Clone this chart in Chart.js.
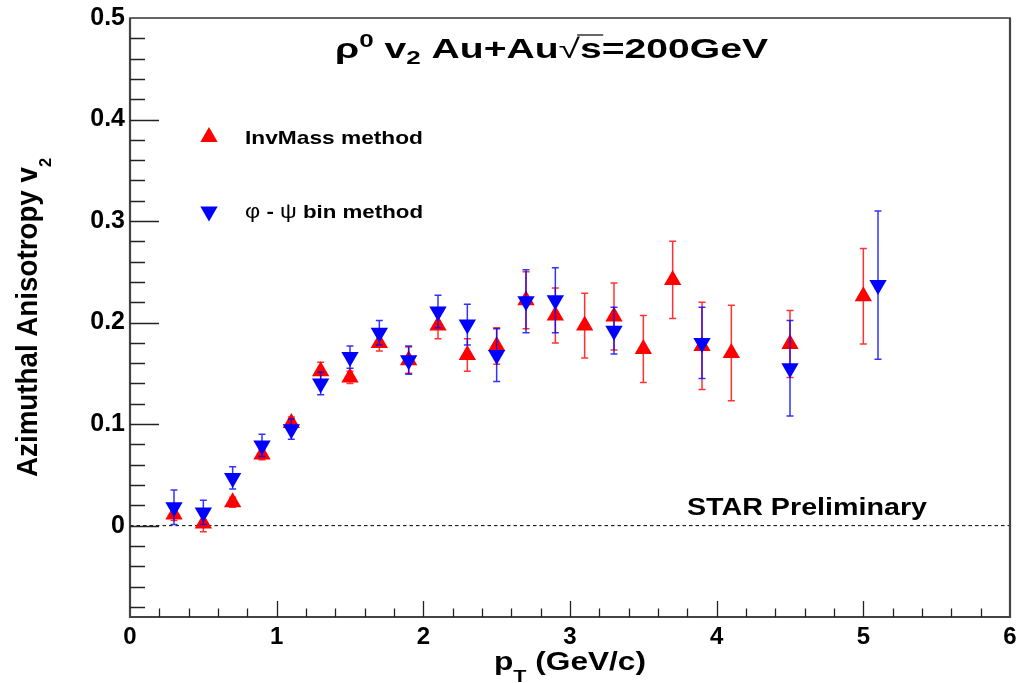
<!DOCTYPE html>
<html><head><meta charset="utf-8">
<script src="https://cdn.jsdelivr.net/npm/chart.js@4.4.0/dist/chart.umd.min.js"></script>
<style>html,body{margin:0;padding:0;background:#fff;}</style>
</head><body>
<canvas id="c" width="1020" height="683"></canvas>
<script>
// ---- data ----
const seriesLabels = ['InvMass method', 'φ - ψ bin method'];
const invMassPt  = [0.3, 0.5, 0.7, 0.9, 1.1, 1.3, 1.5, 1.7, 1.9, 2.1, 2.3, 2.5, 2.7, 2.9, 3.1, 3.3, 3.5, 3.7, 3.9, 4.1, 4.5, 5.0];
const invMassV2  = [0.011, 0.002, 0.023, 0.070, 0.101, 0.152, 0.146, 0.180, 0.163, 0.197, 0.168, 0.177, 0.222, 0.207, 0.197, 0.206, 0.174, 0.242, 0.177, 0.170, 0.179, 0.226];
const invMassErr = [0.006, 0.008, 0.005, 0.005, 0.006, 0.009, 0.006, 0.008, 0.013, 0.013, 0.016, 0.018, 0.028, 0.027, 0.032, 0.033, 0.033, 0.038, 0.043, 0.047, 0.033, 0.047];
const phiPsiPt   = [0.3, 0.5, 0.7, 0.9, 1.1, 1.3, 1.5, 1.7, 1.9, 2.1, 2.3, 2.5, 2.7, 2.9, 3.3, 3.9, 4.5, 5.1];
const phiPsiV2   = [0.018, 0.013, 0.047, 0.079, 0.095, 0.140, 0.166, 0.190, 0.163, 0.211, 0.198, 0.168, 0.221, 0.222, 0.192, 0.180, 0.155, 0.237];
const phiPsiErr  = [0.017, 0.012, 0.011, 0.011, 0.010, 0.011, 0.011, 0.012, 0.014, 0.016, 0.020, 0.026, 0.031, 0.032, 0.023, 0.035, 0.047, 0.073];
const xTickLabels = ['0', '1', '2', '3', '4', '5', '6'];
const yTickLabels = ['0', '0.1', '0.2', '0.3', '0.4', '0.5'];
const xRange = [0, 6];
const yRange = [-0.09, 0.5];
const annotationText = 'STAR Preliminary';

const FAM = '"Liberation Sans", Arial, Helvetica, sans-serif';
function bold(s){ return 'bold ' + s + 'px ' + FAM; }
function norm(s){ return s + 'px ' + FAM; }

// rich text: parts [{t, font, dy, overline}], drawn from (x,y baseline) stretched to width w
function drawRich(ctx, parts, x, y, w, rotate) {
  let nat = 0;
  const widths = parts.map(p => { ctx.font = p.font; const m = ctx.measureText(p.t).width; nat += m; return m; });
  const sx = w ? w / nat : 1;
  ctx.save();
  ctx.translate(x, y);
  if (rotate) ctx.rotate(rotate);
  ctx.scale(sx, 1);
  ctx.fillStyle = '#000';
  ctx.textBaseline = 'alphabetic';
  ctx.textAlign = 'left';
  let cx = 0;
  parts.forEach((p, i) => {
    ctx.font = p.font;
    ctx.fillText(p.t, cx, p.dy || 0);
    if (p.overline) {
      ctx.save();
      ctx.strokeStyle = '#000';
      ctx.lineWidth = 1.2;
      ctx.beginPath();
      ctx.moveTo(cx - 2, p.overline);
      ctx.lineTo(cx + widths[i] + 1, p.overline);
      ctx.stroke();
      ctx.restore();
    }
    cx += widths[i];
  });
  ctx.restore();
}

function triPath(ctx, x, y, r, down) {
  const s = down ? -1 : 1;
  ctx.beginPath();
  ctx.moveTo(x, y - s * r);
  ctx.lineTo(x + r * 0.866, y + s * r * 0.5);
  ctx.lineTo(x - r * 0.866, y + s * r * 0.5);
  ctx.closePath();
}

const decor = {
  id: 'decor',
  beforeDatasetsDraw(chart) {
    const {ctx, chartArea: a, scales: {y}} = chart;
    const y0 = y.getPixelForValue(0);
    ctx.save();
    ctx.setLineDash([3.5, 3]);
    ctx.strokeStyle = '#000';
    ctx.lineWidth = 1;
    ctx.beginPath();
    ctx.moveTo(a.left, y0);
    ctx.lineTo(a.right, y0);
    ctx.stroke();
    ctx.restore();
  },
  beforeDatasetDraw(chart, args) {
    const ds = chart.data.datasets[args.index];
    const {ctx, scales: {x, y}} = chart;
    ctx.save();
    ctx.strokeStyle = ds.errorColor;
    ctx.lineWidth = 1.5;
    ds.data.forEach((p, i) => {
      const px = x.getPixelForValue(p.x);
      const y1 = y.getPixelForValue(p.y - ds.errors[i]);
      const y2 = y.getPixelForValue(p.y + ds.errors[i]);
      ctx.beginPath();
      ctx.moveTo(px, y1); ctx.lineTo(px, y2);
      ctx.moveTo(px - 3.5, y1); ctx.lineTo(px + 3.5, y1);
      ctx.moveTo(px - 3.5, y2); ctx.lineTo(px + 3.5, y2);
      ctx.stroke();
    });
    ctx.restore();
  },
  afterDatasetsDraw(chart) {
    const {ctx, chartArea: a, scales: {x, y}} = chart;
    ctx.save();
    // frame
    ctx.strokeStyle = '#333';
    ctx.lineWidth = 1.5;
    ctx.strokeRect(a.left, a.top, a.right - a.left, a.bottom - a.top);
    ctx.lineWidth = 2.2;
    ctx.strokeStyle = '#444';
    ctx.beginPath();
    ctx.moveTo(a.left, a.top); ctx.lineTo(a.left, a.bottom); ctx.lineTo(a.right, a.bottom); ctx.lineTo(a.right, a.top);
    ctx.stroke();
    // ticks
    ctx.strokeStyle = '#222';
    ctx.lineWidth = 1.3;
    ctx.beginPath();
    for (let k = -4; k <= 24; k++) {
      const py = Math.round(y.getPixelForValue(k * 0.02)) + 0.5;
      const len = (k % 5 === 0) ? 29 : 15;
      ctx.moveTo(a.left, py); ctx.lineTo(a.left + len, py);
    }
    for (let k = 1; k < 30; k++) {
      const px = Math.round(x.getPixelForValue(k * 0.2)) + 0.5;
      const len = (k % 5 === 0) ? 16 : 8.5;
      ctx.moveTo(px, a.bottom); ctx.lineTo(px, a.bottom - len);
    }
    ctx.stroke();
    ctx.restore();

    // title
    drawRich(ctx, [
      {t: 'ρ', font: bold(27)},
      {t: '0', font: bold(18), dy: -11},
      {t: ' v', font: bold(27)},
      {t: '2', font: bold(18), dy: 6},
      {t: ' Au+Au', font: bold(27)},
      {t: '√', font: norm(27)},
      {t: 's', font: bold(27), overline: -23},
      {t: '=200GeV', font: bold(27)}
    ], 335, 58, 433);

    // axis titles
    drawRich(ctx, [
      {t: 'p', font: bold(25)},
      {t: 'T', font: bold(17), dy: 12},
      {t: ' (GeV/c)', font: bold(25)}
    ], 494, 670, 152);
    drawRich(ctx, [
      {t: 'Azimuthal Anisotropy v', font: bold(29)},
      {t: '2', font: bold(17), dy: 14}
    ], 37, 477, 319, -Math.PI / 2);

    // legend
    const ds = chart.data.datasets;
    const legendRows = [[137, 143.5], [211.5, 218]];
    ds.forEach((d, i) => {
      ctx.save();
      ctx.fillStyle = d.backgroundColor;
      triPath(ctx, 209, legendRows[i][0], d.pointRadius, d.rotation === 180);
      ctx.fill();
      ctx.restore();
    });
    drawRich(ctx, [{t: ds[0].label, font: bold(19)}], 245, legendRows[0][1], 178);
    const lab = ds[1].label.split(' ');
    drawRich(ctx, [
      {t: lab[0], font: norm(20)},
      {t: ' ' + lab[1] + ' ', font: bold(19)},
      {t: lab[2], font: norm(20)},
      {t: ' ' + lab.slice(3).join(' '), font: bold(19)}
    ], 245, legendRows[1][1], 178);

    // annotation
    drawRich(ctx, [{t: annotationText, font: bold(23)}], 687, 515, 240);
  }
};

const ctx = document.getElementById('c').getContext('2d');
new Chart(ctx, {
  type: 'scatter',
  data: {
    datasets: [
      {
        label: seriesLabels[0],
        data: invMassPt.map((v, i) => ({x: v, y: invMassV2[i]})),
        errors: invMassErr,
        errorColor: 'rgba(255,0,0,0.8)',
        backgroundColor: '#ff0000',
        borderColor: '#ff0000',
        borderWidth: 0,
        pointStyle: 'triangle',
        rotation: 0,
        pointRadius: 10,
        order: 2
      },
      {
        label: seriesLabels[1],
        data: phiPsiPt.map((v, i) => ({x: v, y: phiPsiV2[i]})),
        errors: phiPsiErr,
        errorColor: 'rgba(0,0,255,0.8)',
        backgroundColor: '#0000ff',
        borderColor: '#0000ff',
        borderWidth: 0,
        pointStyle: 'triangle',
        rotation: 180,
        pointRadius: 10,
        order: 1
      }
    ]
  },
  options: {
    responsive: false,
    animation: false,
    events: [],
    layout: {padding: {top: 18, right: 0, left: 0, bottom: 0}},
    plugins: {legend: {display: false}, tooltip: {enabled: false}, title: {display: false}},
    scales: {
      x: {
        type: 'linear', min: xRange[0], max: xRange[1],
        grid: {display: false, drawTicks: false}, border: {display: false},
        ticks: {
          font: {family: FAM, weight: 'bold', size: 24}, color: '#000', padding: 6, maxRotation: 0,
          callback: (v, i) => xTickLabels[i]
        },
        afterBuildTicks: s => { s.ticks = xTickLabels.map(t => ({value: parseFloat(t)})); },
        afterFit: s => { s.height = 66; s.paddingRight = 7; }
      },
      y: {
        type: 'linear', min: yRange[0], max: yRange[1],
        grid: {display: false, drawTicks: false}, border: {display: false},
        ticks: {
          font: {family: FAM, weight: 'bold', size: 25}, color: '#000', padding: 5,
          callback: (v, i) => yTickLabels[i]
        },
        afterBuildTicks: s => { s.ticks = yTickLabels.map(t => ({value: parseFloat(t)})); },
        afterFit: s => { s.width = 130; s.paddingTop = 0; s.paddingBottom = 0; }
      }
    }
  },
  plugins: [decor]
});
</script>
</body></html>
